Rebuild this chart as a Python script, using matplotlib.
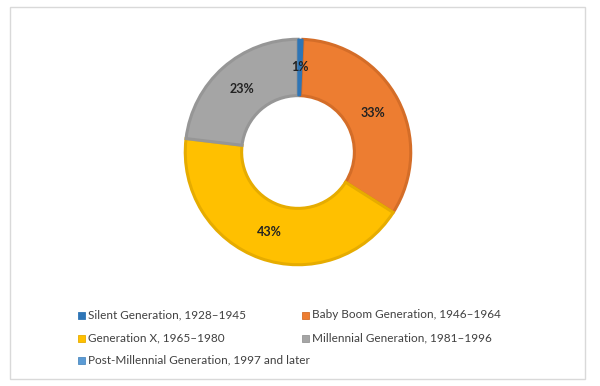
import matplotlib.pyplot as plt
from matplotlib.patches import Rectangle

plt.rcParams['font.family'] = ['Lato', 'DejaVu Sans']

labels = ['Silent Generation, 1928\u20131945',
          'Baby Boom Generation, 1946\u20131964',
          'Generation X, 1965\u20131980',
          'Millennial Generation, 1981\u20131996',
          'Post-Millennial Generation, 1997 and later']
shares = [0.7, 33.3, 42.9, 23.1, 0.0]
colors = ['#2E75B6', '#ED7D31', '#FFC000', '#A5A5A5', '#5B9BD5']
edges = ['#2E75B6', '#D46D28', '#E6AC00', '#969696', '#4F8BC0']

fig = plt.figure(figsize=(6, 3.86), dpi=100)

# light frame around the chart area
fig.patches.append(Rectangle((10 / 600, 7 / 386), 575 / 600, 372 / 386,
                             transform=fig.transFigure, fill=False,
                             edgecolor='#D9D9D9', linewidth=1))

ax = fig.add_axes([183 / 600, 119 / 386, 230 / 600, 230 / 386])
vals = [v for v in shares if v > 0]
cols = [c for c, v in zip(colors, shares) if v > 0]
ecs = [e for e, v in zip(edges, shares) if v > 0]

wedges, texts, autotexts = ax.pie(
    vals, colors=cols, startangle=90, counterclock=False, radius=1,
    autopct=lambda p: f'{round(p)}%', pctdistance=0.75,
    wedgeprops=dict(width=0.5, linewidth=2.2),
    textprops=dict(fontsize=9, fontweight='bold', color='#222222'))
for w, e in zip(wedges, ecs):
    w.set_edgecolor(e)
# keep the thin first slice visible above its neighbours' borders
wedges[0].set_linewidth(1.0)
wedges[0].set_zorder(3)
for t in autotexts:
    t.set_zorder(4)
ax.set_xlim(-1.02, 1.02)
ax.set_ylim(-1.02, 1.02)
ax.set_aspect('equal')
ax.axis('off')

# legend, two columns
xs = [78, 302]
ys = [315, 338, 360]
for i, (lab, c) in enumerate(zip(labels, colors)):
    x = xs[i % 2]
    y = ys[i // 2]
    fig.patches.append(Rectangle((x / 600, (386 - y - 3.5) / 386), 7 / 600, 7 / 386,
                                 transform=fig.transFigure, facecolor=c,
                                 edgecolor=edges[i], linewidth=0.6))
    fig.text((x + 10) / 600, (386 - y) / 386, lab, fontsize=8.5,
             color='#404040', va='center', ha='left')

fig.savefig('out.png', dpi=100)
